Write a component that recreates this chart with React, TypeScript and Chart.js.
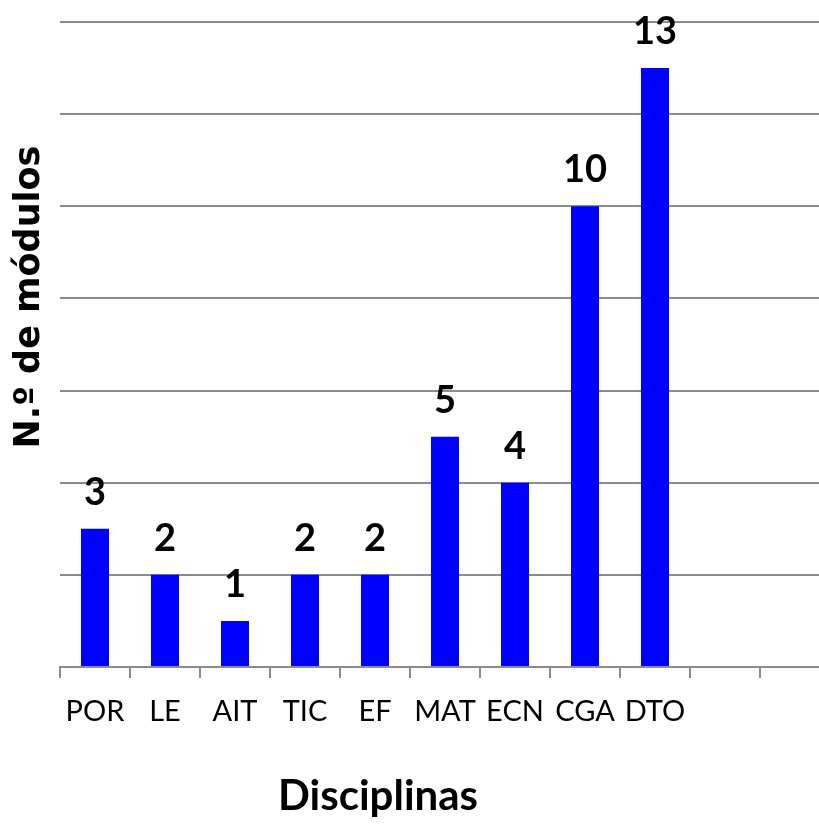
import React, { useEffect, useRef } from "react";
import { Chart, registerables } from "chart.js";

Chart.register(...registerables);

const categories = ["POR", "LE", "AIT", "TIC", "EF", "MAT", "ECN", "CGA", "DTO", "", ""];
const moduleCounts = [3, 2, 1, 2, 2, 5, 4, 10, 13, null, null];
const yTitle = "N.º de módulos";
const xTitle = "Disciplinas";
const yMax = 14;
const yStep = 2;

const labelPlugin = {
  id: "valueLabelsAndTitles",
  afterDatasetsDraw(chart: any) {
    const ctx = chart.ctx;
    const meta = chart.getDatasetMeta(0);
    ctx.save();
    ctx.fillStyle = "#000";
    ctx.font = "bold 38px Lato, 'Open Sans', sans-serif";
    ctx.textAlign = "center";
    ctx.textBaseline = "alphabetic";
    meta.data.forEach((bar: any, i: number) => {
      const v = moduleCounts[i];
      if (v == null) return;
      ctx.fillText(String(v), bar.x, bar.y - 24);
    });
    const area = chart.chartArea;
    // y title
    ctx.save();
    ctx.font = "bold 35px 'DejaVu Sans', Verdana, sans-serif";
    ctx.textAlign = "center";
    ctx.textBaseline = "middle";
    ctx.translate(area.left - 30, area.top + 275);
    ctx.rotate(-Math.PI / 2);
    ctx.fillText(yTitle, 0, 0);
    ctx.restore();
    // x title
    ctx.font = "bold 42px Lato, 'Open Sans', sans-serif";
    ctx.textAlign = "center";
    ctx.textBaseline = "alphabetic";
    ctx.fillText(xTitle, area.left + 318, area.bottom + 143);
    ctx.restore();
  },
};

export default function App() {
  const ref = useRef<HTMLCanvasElement>(null);
  useEffect(() => {
    if (!ref.current) return;
    const chart = new Chart(ref.current, {
      type: "bar",
      data: {
        labels: categories,
        datasets: [
          {
            data: moduleCounts,
            backgroundColor: "#0000FF",
            borderWidth: 0,
            barPercentage: 0.4,
            categoryPercentage: 1,
          },
        ],
      },
      options: {
        animation: false,
        responsive: false,
        maintainAspectRatio: false,
        layout: { padding: { left: 60, top: 22, right: 10, bottom: 66 } },
        plugins: { legend: { display: false }, tooltip: { enabled: false }, title: { display: false } },
        scales: {
          x: {
            offset: true,
            grid: {
              offset: true,
              drawOnChartArea: false,
              drawTicks: true,
              tickLength: 11,
              color: "#8c8c8c",
              lineWidth: 2,
            },
            border: { display: true, color: "#8c8c8c", width: 2 },
            ticks: {
              color: "#000",
              font: { family: "Lato, 'Open Sans', sans-serif", size: 29 },
              padding: 16,
              autoSkip: false,
              maxRotation: 0,
            },
            afterFit: (axis: any) => {
              axis.height = 100;
            },
          },
          y: {
            min: 0,
            max: yMax,
            ticks: { display: false, stepSize: yStep },
            grid: { color: "#8c8c8c", lineWidth: 2, drawTicks: false },
            border: { display: false },
            afterFit: (axis: any) => {
              axis.width = 0;
            },
          },
        },
      },
      plugins: [labelPlugin],
    });
    return () => chart.destroy();
  }, []);
  return (
    <div style={{ position: "fixed", left: 0, top: 0, width: 819, height: 833, overflow: "hidden", background: "#fff" }}>
      <canvas ref={ref} width={840} height={833} style={{ display: "block" }} />
    </div>
  );
}
